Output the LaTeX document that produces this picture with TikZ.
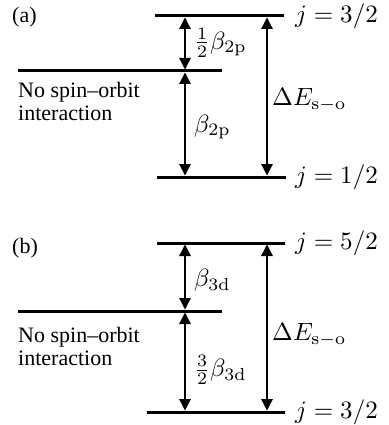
\documentclass[tikz,border=0pt]{standalone}
\usepackage[no-math]{fontspec}
\setmainfont{Liberation Serif}
\usepackage{graphicx}
\usetikzlibrary{arrows.meta}
\newcommand{\mymath}[1]{\scalebox{2.5}{\fontsize{10}{12}\selectfont$#1$}}
\begin{document}
\begin{tikzpicture}[x=1pt,y=-1pt,
  level/.style={line width=3pt},
  gap/.style={line width=1.3pt,
    {Triangle[length=11.5pt,width=11.5pt]}-{Triangle[length=11.5pt,width=11.5pt]},
    shorten <=1.5pt, shorten >=1.5pt},
  txt/.style={font=\fontsize{22}{23}\selectfont, inner sep=0pt, anchor=west, align=left},
  mth/.style={inner sep=0pt, anchor=west}]
\useasboundingbox (0,0) rectangle (388,425);

% ---------- (a) ----------
\coordinate (aTl) at (155,16);  \coordinate (aTr) at (284,16);
\coordinate (aMl) at (18,71);   \coordinate (aMr) at (222,71);
\coordinate (aBl) at (157,177); \coordinate (aBr) at (286,177);
\draw[level] (aTl) -- (aTr);
\draw[level] (aMl) -- (aMr);
\draw[level] (aBl) -- (aBr);
\coordinate (a1) at (185,16); \coordinate (a2) at (185,71); \coordinate (a3) at (185,177);
\coordinate (a4) at (267,16); \coordinate (a5) at (267,177);
\draw[gap] (a1) -- (a2);
\draw[gap] (a2) -- (a3);
\draw[gap] (a4) -- (a5);
\node[txt] (la) at (12,17) {(a)};
\node[mth] (ja1) at (295,16) {\mymath{j=3/2}};
\node[mth] (ja2) at (295,177) {\mymath{j=1/2}};
\node[mth] (ba1) at (194,43) {\mymath{\frac{1}{2}\beta_{2\mathrm{p}}}};
\node[mth] (ba2) at (194,127) {\mymath{\beta_{2\mathrm{p}}}};
\node[mth] (ea) at (272,100) {\mymath{\Delta E_{\mathrm{s-o}}}};
\node[txt] (na) at (18,101) {No spin--orbit\\interaction};

% ---------- (b) ----------
\coordinate (bTl) at (157,243); \coordinate (bTr) at (285,243);
\coordinate (bMl) at (18,311);  \coordinate (bMr) at (222,311);
\coordinate (bBl) at (147,412); \coordinate (bBr) at (285,412);
\draw[level] (bTl) -- (bTr);
\draw[level] (bMl) -- (bMr);
\draw[level] (bBl) -- (bBr);
\coordinate (b1) at (185,243); \coordinate (b2) at (185,311); \coordinate (b3) at (185,412);
\coordinate (b4) at (267,243); \coordinate (b5) at (267,412);
\draw[gap] (b1) -- (b2);
\draw[gap] (b2) -- (b3);
\draw[gap] (b4) -- (b5);
\node[txt] (lb) at (12,248) {(b)};
\node[mth] (jb1) at (295,243) {\mymath{j=5/2}};
\node[mth] (jb2) at (295,412) {\mymath{j=3/2}};
\node[mth] (bb1) at (194,280) {\mymath{\beta_{3\mathrm{d}}}};
\node[mth] (bb2) at (194,370) {\mymath{\frac{3}{2}\beta_{3\mathrm{d}}}};
\node[mth] (eb) at (272,335) {\mymath{\Delta E_{\mathrm{s-o}}}};
\node[txt] (nb) at (18,346) {No spin--orbit\\interaction};
\end{tikzpicture}
\end{document}
